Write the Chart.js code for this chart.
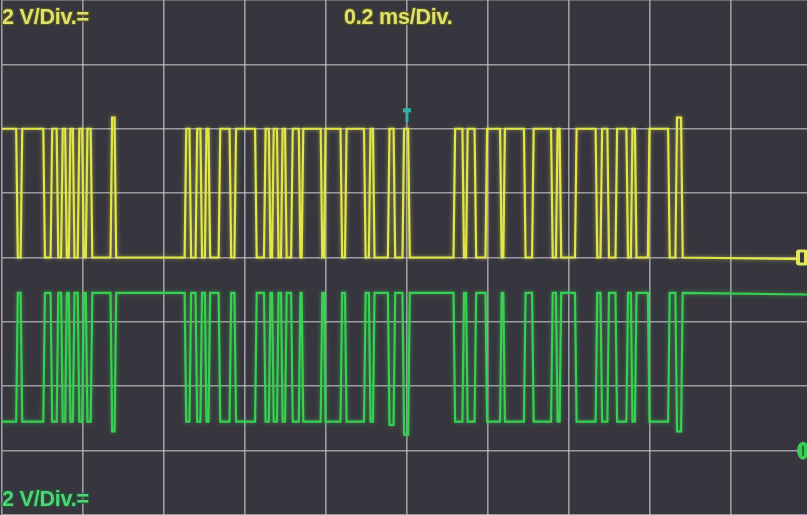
<!DOCTYPE html>
<html>
<head>
<meta charset="utf-8">
<script src="https://cdn.jsdelivr.net/npm/chart.js@4/dist/chart.umd.min.js"></script>
<style>
  html, body { margin: 0; padding: 0; background: #37363e; }
  #wrap { position: relative; width: 807px; height: 515px; overflow: hidden; }
  canvas { position: absolute; left: 0; top: 0; }
  .lbl {
    position: absolute;
    font: bold 21.5px "Liberation Sans", Arial, sans-serif;
    line-height: 21px;
    letter-spacing: -0.2px;
    white-space: nowrap;
  }
  .ch1 { color: #dfe070; text-shadow: -1px -1px 0 #55561e, 1px -1px 0 #55561e, -1px 1px 0 #55561e, 1px 1px 0 #55561e; }
  .ch2 { color: #52d27c; text-shadow: -1px -1px 0 #1f5a30, 1px -1px 0 #1f5a30, -1px 1px 0 #1f5a30, 1px 1px 0 #1f5a30; }
</style>
</head>
<body>
<div id="wrap">
  <canvas id="scope" width="807" height="515"></canvas>
  <div class="lbl ch1" style="left:2px; top:7px;">2 V/Div.=</div>
  <div class="lbl ch1" style="left:344px; top:7px;">0.2 ms/Div.</div>
  <div class="lbl ch2" style="left:2px; top:489px;">2 V/Div.=</div>
</div>
<script>
// time base: 0.2 ms/div -> 200 µs per division, 10 divisions on screen
const timeTicks = [0, 200, 400, 600, 800, 1000, 1200, 1400, 1600, 1800];
const voltTicks = [-8, -6, -4, -2, 0, 2, 4, 6, 8];

// channel 1 (yellow), time in µs, level in V
const yellowTime = [0, 35, 39, 46, 50, 102, 106, 120, 124, 135, 139, 146, 150, 156, 160, 165, 169, 175, 179, 187, 191,
  198, 202, 207, 211, 219, 223, 268, 272, 278, 282,
  451, 455, 463, 467, 478, 482, 490, 494, 501, 505, 510, 514, 535, 539, 562, 566, 574, 578,
  625, 629, 647, 651, 659, 663, 667, 671, 679, 683, 689, 693, 699, 703, 714, 718, 733, 737, 740, 744,
  787, 791, 795, 799, 836, 840, 847, 851, 894, 898, 906, 910, 916, 920, 953, 957, 967, 971, 989, 993, 1003, 1007,
  1115, 1119, 1137, 1141, 1146, 1150, 1167, 1171, 1194, 1198, 1230, 1234, 1238, 1242, 1289, 1293, 1309, 1313,
  1356, 1360, 1368, 1372, 1377, 1381, 1415, 1419, 1466, 1470, 1478, 1482, 1495, 1499, 1515, 1519,
  1542, 1546, 1553, 1557, 1563, 1567, 1595, 1599, 1645, 1649, 1663, 1667, 1677, 1681, 1988];
const yellowVolt = [4, 4, 0, 0, 4, 4, 0, 0, 4, 4, 0, 0, 4, 4, 0, 0, 4, 4, 0, 0, 4,
  4, 0, 0, 4, 4, 0, 0, 4.35, 4.35, 0,
  0, 4, 4, 0, 0, 4, 4, 0, 0, 4, 4, 0, 0, 4, 4, 0, 0, 4,
  4, 0, 0, 4, 4, 0, 0, 4, 4, 0, 0, 4, 4, 0, 0, 4, 4, 0, 0, 4,
  4, 0, 0, 4, 4, 0, 0, 4, 4, 0, 0, 4, 4, 0, 0, 4, 4, 0, 0, 4, 4, 0,
  0, 4, 4, 0, 0, 4, 4, 0, 0, 4, 4, 0, 0, 4, 4, 0, 0, 4,
  4, 0, 0, 4, 4, 0, 0, 4, 4, 0, 0, 4, 4, 0, 0, 4,
  4, 0, 0, 4, 4, 0, 0, 4, 4, 0, 0, 4.35, 4.35, 0, -0.05];

// channel 2 (green), time in µs, level in V
const greenTime = [0, 35, 39, 46, 50, 102, 106, 120, 124, 135, 139, 146, 150, 156, 160, 165, 169, 175, 179, 187, 191,
  198, 202, 207, 211, 219, 223, 268, 272, 278, 282,
  451, 455, 463, 467, 478, 482, 490, 494, 501, 505, 510, 514, 535, 539, 562, 566, 574, 578,
  625, 629, 647, 651, 659, 663, 667, 671, 679, 683, 689, 693, 699, 703, 714, 718, 733, 737, 740, 744,
  787, 791, 795, 799, 836, 840, 847, 851, 894, 898, 906, 910, 916, 920, 953, 957, 967, 971, 989, 993, 1003, 1007,
  1115, 1119, 1137, 1141, 1146, 1150, 1167, 1171, 1194, 1198, 1230, 1234, 1238, 1242, 1289, 1293, 1309, 1313,
  1356, 1360, 1368, 1372, 1377, 1381, 1415, 1419, 1466, 1470, 1478, 1482, 1495, 1499, 1515, 1519,
  1542, 1546, 1553, 1557, 1563, 1567, 1595, 1599, 1645, 1649, 1663, 1667, 1677, 1681, 1988];
const greenVolt = [0.9, 0.9, 4.9, 4.9, 0.9, 0.9, 4.9, 4.9, 0.9, 0.9, 4.9, 4.9, 0.9, 0.9, 4.9, 4.9, 0.9, 0.9, 4.9, 4.9, 0.9,
  0.9, 4.9, 4.9, 0.9, 0.9, 4.9, 4.9, 0.6, 0.6, 4.9,
  4.9, 0.9, 0.9, 4.9, 4.9, 0.9, 0.9, 4.9, 4.9, 0.9, 0.9, 4.9, 4.9, 0.9, 0.9, 4.9, 4.9, 0.9,
  0.9, 4.9, 4.9, 0.9, 0.9, 4.9, 4.9, 0.9, 0.9, 4.9, 4.9, 0.9, 0.9, 4.9, 4.9, 0.9, 0.9, 4.9, 4.9, 0.9,
  0.9, 4.9, 4.9, 0.9, 0.9, 4.9, 4.9, 0.9, 0.9, 4.9, 4.9, 0.9, 0.9, 4.9, 4.9, 0.8, 0.8, 4.9, 4.9, 0.5, 0.5, 4.9,
  4.9, 0.9, 0.9, 4.9, 4.9, 0.9, 0.9, 4.9, 4.9, 0.9, 0.9, 4.9, 4.9, 0.9, 0.9, 4.9, 4.9, 0.9,
  0.9, 4.9, 4.9, 0.9, 0.9, 4.9, 4.9, 0.9, 0.9, 4.9, 4.9, 0.9, 0.9, 4.9, 4.9, 0.9,
  0.9, 4.9, 4.9, 0.9, 0.9, 4.9, 4.9, 0.9, 0.9, 4.9, 4.9, 0.6, 0.6, 4.9, 4.85];

// screen position of each channel's ground (V on the screen scale)
const ch1Ground = 0;
const ch2Ground = -6;
const triggerTime = 1000;

function trace(times, volts, ground) {
  return times.map((t, i) => ({ x: t, y: volts[i] + ground }));
}

// soft phosphor glow round the traces
const glow = {
  id: 'glow',
  beforeDatasetDraw(chart, args) {
    const ctx = chart.ctx;
    ctx.save();
    ctx.shadowColor = args.index === 0 ? 'rgba(226,230,74,0.55)' : 'rgba(56,207,82,0.55)';
    ctx.shadowBlur = 4;
  },
  afterDatasetDraw(chart) {
    chart.ctx.restore();
  }
};

// channel ground markers + trigger marker
const scopeMarks = {
  id: 'scopeMarks',
  afterDatasetsDraw(chart) {
    const { ctx, scales } = chart;
    const right = chart.chartArea.right;
    ctx.save();
    // yellow ground marker
    let y = scales.y.getPixelForValue(ch1Ground);
    ctx.fillStyle = '#e2e45a';
    ctx.beginPath();
    ctx.roundRect(right - 11, y - 8, 12, 16, 3);
    ctx.fill();
    ctx.fillStyle = '#37363e';
    ctx.fillRect(right - 7, y - 5, 4, 10);
    // green ground marker
    y = scales.y.getPixelForValue(ch2Ground);
    ctx.fillStyle = '#3ccd55';
    ctx.beginPath();
    ctx.ellipse(right - 4, y, 6, 9, 0, 0, Math.PI * 2);
    ctx.fill();
    ctx.fillStyle = '#2a6a3a';
    ctx.fillRect(right - 5, y - 5, 2, 10);
    // trigger "T"
    const tx = scales.x.getPixelForValue(triggerTime);
    const ty = scales.y.getPixelForValue(4.2);
    ctx.fillStyle = '#2fb4a2';
    ctx.fillRect(tx - 4, ty - 14, 8, 4);
    ctx.fillRect(tx - 1.5, ty - 11, 3, 11);
    ctx.restore();
  }
};

const gridStyle = { color: 'rgba(200,200,205,0.7)', lineWidth: 1.6, drawTicks: false };

new Chart(document.getElementById('scope'), {
  type: 'line',
  data: {
    datasets: [
      {
        label: 'CH1',
        data: trace(yellowTime, yellowVolt, ch1Ground),
        borderColor: '#e2e64a',
        borderWidth: 2.2,
        pointRadius: 0,
        tension: 0
      },
      {
        label: 'CH2',
        data: trace(greenTime, greenVolt, ch2Ground),
        borderColor: '#38cf52',
        borderWidth: 2.2,
        pointRadius: 0,
        tension: 0
      }
    ]
  },
  options: {
    responsive: false,
    animation: false,
    devicePixelRatio: 1,
    layout: { padding: { left: 2, right: 0, top: 0, bottom: 0 } },
    plugins: { legend: { display: false }, tooltip: { enabled: false } },
    scales: {
      x: {
        type: 'linear',
        min: 0,
        max: 1988,
        afterBuildTicks: (s) => { s.ticks = timeTicks.map(v => ({ value: v })); },
        ticks: { display: false },
        grid: gridStyle,
        border: { display: false }
      },
      y: {
        min: -8,
        max: 8,
        afterBuildTicks: (s) => { s.ticks = voltTicks.map(v => ({ value: v })); },
        ticks: { display: false },
        grid: gridStyle,
        border: { display: false }
      }
    }
  },
  plugins: [glow, scopeMarks]
});
</script>
</body>
</html>
